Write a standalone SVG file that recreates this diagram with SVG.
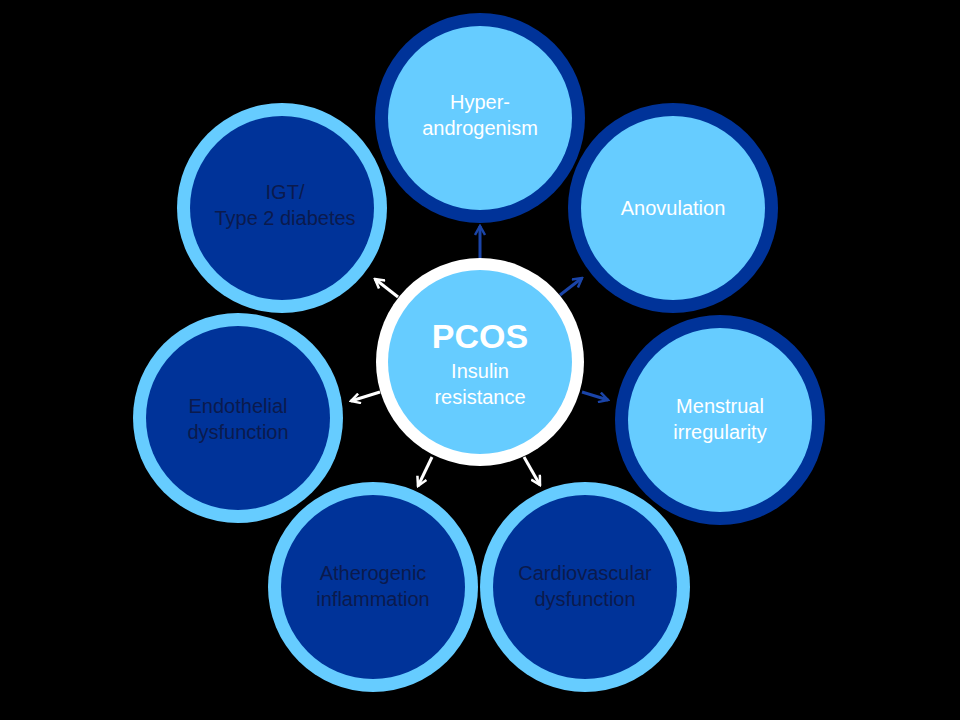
<svg xmlns="http://www.w3.org/2000/svg" width="960" height="720" viewBox="0 0 960 720">
<defs>
<style>
.t{font-family:"Liberation Sans",Arial,sans-serif;font-size:20px;text-anchor:middle}
.w{fill:#fff}.d{fill:#0b1a4d}
.ab{stroke:#1a44a8;stroke-width:3;fill:none}
.aw{stroke:#fff;stroke-width:3;fill:none}
</style>
<marker id="mb" viewBox="0 0 12 12" refX="10" refY="6" markerWidth="12" markerHeight="12" markerUnits="userSpaceOnUse" orient="auto"><path d="M1,1 L10,6 L1,11" fill="none" stroke="#1a44a8" stroke-width="2.5"/></marker>
<marker id="mw" viewBox="0 0 12 12" refX="10" refY="6" markerWidth="12" markerHeight="12" markerUnits="userSpaceOnUse" orient="auto"><path d="M1,1 L10,6 L1,11" fill="none" stroke="#fff" stroke-width="2.5"/></marker>
</defs>
<rect width="960" height="720" fill="#000"/>
<g id="hyper"><circle cx="480" cy="118" r="105" fill="#003399"/><circle cx="480" cy="118" r="92" fill="#66ccff"/><text class="t w" x="480" y="109">Hyper-</text><text class="t w" x="480" y="135">androgenism</text></g>
<g id="anov"><circle cx="673" cy="208" r="105" fill="#003399"/><circle cx="673" cy="208" r="92" fill="#66ccff"/><text class="t w" x="673" y="215">Anovulation</text></g>
<g id="menst"><circle cx="720" cy="420" r="105" fill="#003399"/><circle cx="720" cy="420" r="92" fill="#66ccff"/><text class="t w" x="720" y="413">Menstrual</text><text class="t w" x="720" y="439">irregularity</text></g>
<g id="cardio"><circle cx="585" cy="587" r="105" fill="#66ccff"/><circle cx="585" cy="587" r="92" fill="#003399"/><text class="t d" x="585" y="580">Cardiovascular</text><text class="t d" x="585" y="606">dysfunction</text></g>
<g id="athero"><circle cx="373" cy="587" r="105" fill="#66ccff"/><circle cx="373" cy="587" r="92" fill="#003399"/><text class="t d" x="373" y="580">Atherogenic</text><text class="t d" x="373" y="606">inflammation</text></g>
<g id="endo"><circle cx="238" cy="418" r="105" fill="#66ccff"/><circle cx="238" cy="418" r="92" fill="#003399"/><text class="t d" x="238" y="413">Endothelial</text><text class="t d" x="238" y="439">dysfunction</text></g>
<g id="igt"><circle cx="282" cy="208" r="105" fill="#66ccff"/><circle cx="282" cy="208" r="92" fill="#003399"/><text class="t d" x="285" y="199">IGT/</text><text class="t d" x="285" y="225">Type 2 diabetes</text></g>
<g id="connectors">
<line class="ab" x1="480" y1="258" x2="480" y2="226" marker-end="url(#mb)"/>
<line class="ab" x1="560" y1="295" x2="582" y2="278" marker-end="url(#mb)"/>
<line class="ab" x1="582" y1="392" x2="608" y2="400" marker-end="url(#mb)"/>
<line class="aw" x1="398" y1="297" x2="375" y2="279" marker-end="url(#mw)"/>
<line class="aw" x1="380" y1="392" x2="351" y2="401" marker-end="url(#mw)"/>
<line class="aw" x1="432" y1="457" x2="418" y2="486" marker-end="url(#mw)"/>
<line class="aw" x1="524" y1="457" x2="540" y2="485" marker-end="url(#mw)"/>
</g>
<g id="pcos"><circle cx="480" cy="362" r="104" fill="#fff"/><circle cx="480" cy="362" r="92" fill="#66ccff"/><text class="t w" x="480" y="348" style="font-size:34px;font-weight:bold">PCOS</text><text class="t w" x="480" y="378">Insulin</text><text class="t w" x="480" y="404">resistance</text></g>
</svg>
